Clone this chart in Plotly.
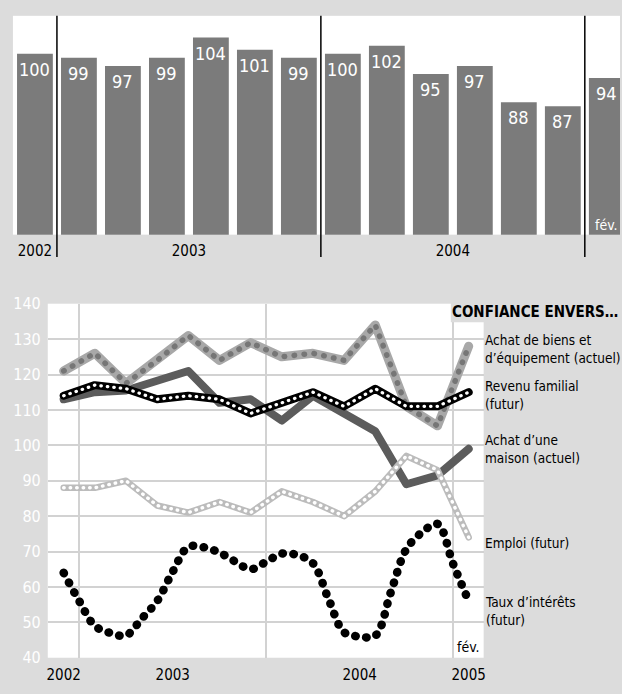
import plotly.graph_objects as go

W, H = 622, 694
BG = "#dcdcdc"
FONT = "DejaVu Sans Condensed, Roboto, Liberation Sans, sans-serif"

# ---------------- data ----------------
bar_values = [100, 99, 97, 99, 104, 101, 99, 100, 102, 95, 97, 88, 87, 94]
bar_years = ["2002", "2003", "2004", "2005"]
bars_per_year = [1, 6, 6, 1]
last_bar_note = "fév."

months = list(range(0, 27, 2))  # months since Dec 2002 (bimonthly)
achat_biens = [121, 126, 117.5, 124, 131, 124, 129, 125, 126, 124, 134, 111, 105.5, 128]
revenu = [114, 117, 116, 113, 114, 113, 109, 112, 115, 111, 116, 111, 111, 115]
achat_maison = [113, 115, 115.5, 118.5, 121, 112, 113, 107, 114, 109, 104, 89, 91.5, 99]
emploi = [88, 88, 90, 83, 81, 84, 81, 87, 84, 80, 87, 97, 93, 74]
taux_months = list(range(0, 27))
taux = [64, 56, 49, 47, 46.3, 51, 56, 64.3, 71.3, 71.2, 69.7, 67.2, 65, 67.1, 69.4, 69,
        66.7, 56.6, 47.2, 46, 46.2, 58.5, 70.7, 75.4, 77.8, 66.5, 56]

line_years = ["2002", "2003", "2004", "2005"]
line_year_pos = [0, 7, 19, 26]
year_starts = [1, 13, 25]
line_note = "fév."

title = "CONFIANCE ENVERS…"
labels = [
    ("Achat de biens et<br>d’équipement (actuel)", 349.5),
    ("Revenu familial<br>(futur)", 396.5),
    ("Achat d’une<br>maison (actuel)", 452.5),
    ("Emploi (futur)", 549),
    ("Taux d’intérêts<br>(futur)", 618.5),
]

def py(p):
    return 1 - p / H

def px(p):
    return p / W

fig = go.Figure()

# ---------------- top bar chart ----------------
n = len(bar_values)
fig.add_trace(go.Bar(x=list(range(n)), y=bar_values, marker_color="#7b7b7b",
                     marker_line_width=0, width=0.814, xaxis="x", yaxis="y",
                     hoverinfo="skip"))

centers, bounds = [], []
start = 0
for k, c in enumerate(bars_per_year):
    centers.append(start + (c - 1) / 2)
    if k > 0:
        bounds.append(start - 0.5)
    start += c

annotations = []
for i, v in enumerate(bar_values):
    annotations.append(dict(x=i, y=v, xref="x", yref="y", text=str(v), showarrow=False,
                            yanchor="top", yshift=-3,
                            font=dict(color="white", size=18, family=FONT)))
annotations.append(dict(x=n - 1, y=55.2, xref="x", yref="y", text=last_bar_note,
                        showarrow=False, yanchor="bottom", yshift=0,
                        font=dict(color="white", size=14, family=FONT)))

shapes = []
for b in bounds:
    shapes.append(dict(type="line", xref="x", yref="paper", x0=b, x1=b,
                       y0=py(255), y1=py(7), line=dict(color="black", width=1.5)))

# ---------------- bottom line chart ----------------
def add_line(x, y, color, width, shape="linear", dash=None):
    fig.add_trace(go.Scatter(x=x, y=y, mode="lines", xaxis="x2", yaxis="y2",
                             line=dict(color=color, width=width, shape=shape,
                                       dash=dash or "solid"),
                             hoverinfo="skip", showlegend=False))

add_line(months, achat_maison, "#5c5c5c", 8)
add_line(months, achat_biens, "#a8a8a8", 9)
add_line(months, achat_biens, "#767676", 5.5, dash="0.5px,9.5px")
add_line(months, emploi, "#bcbcbc", 6.5)
add_line(months, emploi, "white", 3.4, dash="0.5px,6px")
add_line(months, revenu, "black", 8)
add_line(months, revenu, "white", 3.2, dash="0.5px,6px")
add_line(taux_months, taux, "black", 8.5, shape="spline", dash="0.5px,10.5px")

annotations.append(dict(x=26, y=40, xref="x2", yref="y2", text=line_note, showarrow=False,
                        yanchor="bottom", yshift=1,
                        font=dict(color="black", size=14, family=FONT)))

shapes.append(dict(type="rect", xref="paper", yref="paper", x0=px(452), x1=1.05,
                   y0=py(322), y1=py(300), fillcolor=BG, line=dict(width=0), layer="above"))
annotations.append(dict(x=px(451), y=py(312), xref="paper", yref="paper", text="<b>" + title + "</b>",
                        showarrow=False, xanchor="left", yanchor="middle",
                        font=dict(color="black", size=15, family=FONT)))
for t, yy in labels:
    annotations.append(dict(x=px(484), y=py(yy), xref="paper", yref="paper", text=t,
                            showarrow=False, xanchor="left", yanchor="middle", align="left",
                            font=dict(color="black", size=13.5, family=FONT)))

fig.update_layout(
    width=W, height=H, margin=dict(l=0, r=0, t=0, b=0),
    paper_bgcolor=BG, plot_bgcolor="white", showlegend=False,
    font=dict(family=FONT, size=15, color="black"),
    xaxis=dict(domain=[px(12), 1], range=[-0.5, 13.3], tickvals=centers, ticktext=bar_years,
               showgrid=False, zeroline=False, showline=False, ticks="",
               tickfont=dict(size=15, color="black", family=FONT), ticklabelstandoff=5),
    yaxis=dict(domain=[py(232), py(7)], range=[55.2, 109.4], showgrid=False, zeroline=False,
               showticklabels=False, showline=False),
    xaxis2=dict(domain=[px(47), px(485)], range=[-1.02, 26.96], anchor="y2",
                tickvals=line_year_pos, ticktext=line_years, showgrid=False, zeroline=False,
                showline=False, ticks="", tickfont=dict(size=15, color="black", family=FONT),
                ticklabelstandoff=6,
                minor=dict(tickvals=year_starts, showgrid=True, gridcolor="#d2d2d2", gridwidth=1.5)),
    yaxis2=dict(domain=[py(667), py(303)], range=[40, 140], anchor="x2",
                tickvals=list(range(40, 141, 10)), showgrid=True, gridcolor="#d2d2d2",
                gridwidth=1.5, zeroline=False, showline=False, ticks="",
                tickfont=dict(size=16, color="white", family=FONT), ticklabelstandoff=6),
    annotations=annotations, shapes=shapes,
)

post = """
document.body.style.margin = '0';
document.body.style.overflow = 'hidden';
var gd = document.getElementById('{plot_id}');
function fixCaps(){
  gd.querySelectorAll('path.js-line').forEach(function(p){
    p.style.strokeLinecap = 'round';
    p.style.strokeLinejoin = 'round';
  });
}
fixCaps();
gd.on('plotly_afterplot', fixCaps);
"""

fig.write_html("out.html", post_script=post, config={"displayModeBar": False})
